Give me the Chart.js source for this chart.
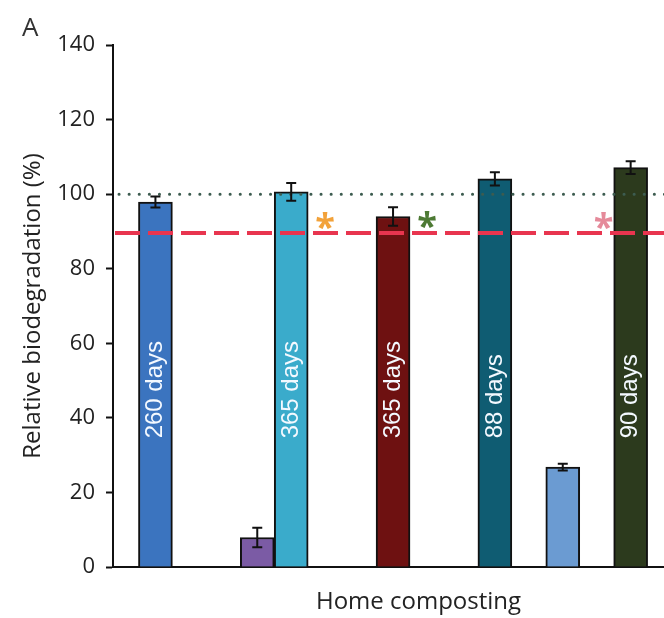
<!DOCTYPE html>
<html><head><meta charset="utf-8">
<script src="https://cdn.jsdelivr.net/npm/chart.js@4/dist/chart.umd.min.js"></script>
<style>
html,body{margin:0;padding:0;overflow:hidden;background:#fff;}
#wrap{position:relative;width:724px;height:618px;}
</style></head><body>
<div id="wrap"><canvas id="c"></canvas></div>
<script>
// ---- data ----
const slotPositions = [1, 4, 5, 8, 11, 13, 15];
const biodegradation = [97.9, 7.9, 100.6, 94.0, 104.1, 26.8, 107.1];
const errors = [1.5, 2.6, 2.4, 2.5, 1.8, 0.9, 1.7];
const dayLabels = ['260 days', '', '365 days', '365 days', '88 days', '', '90 days'];
const barColors = ['#3b74bf', '#7b5ba5', '#3aabcb', '#6e1111', '#0f5c72', '#6b9bd2', '#2c3a1d'];
const yTicks = [0, 20, 40, 60, 80, 100, 120, 140];
const dottedLineValue = 100;
const dashedLineValue = 89.6;
const dayLabelStart = 34.5;
const asteriskX = [6, 9, 14.2];
const asteriskY = [92.8, 93.0, 92.8];
const asteriskColors = ['#f2a23a', '#4d7a34', '#e58a9a'];

Chart.defaults.font.family = "'Open Sans', sans-serif";
Chart.defaults.color = '#222';

const overlay = {
  id: 'overlay',
  afterDatasetsDraw(chart) {
    const ctx = chart.ctx;
    const xs = chart.scales.x, ys = chart.scales.y;
    const area = chart.chartArea;
    ctx.save();
    // day labels inside bars
    ctx.font = "24px 'Liberation Sans', Arial, sans-serif";
    ctx.fillStyle = '#f4f9ff';
    ctx.textAlign = 'left';
    ctx.textBaseline = 'middle';
    slotPositions.forEach((p, i) => {
      if (!dayLabels[i]) return;
      ctx.save();
      ctx.translate(xs.getPixelForValue(p), ys.getPixelForValue(dayLabelStart));
      ctx.rotate(-Math.PI / 2);
      ctx.fillText(dayLabels[i], 0, 0);
      ctx.restore();
    });
    // dotted line at 100
    ctx.beginPath();
    ctx.strokeStyle = '#3d5c50';
    ctx.lineWidth = 3;
    ctx.lineCap = 'round';
    ctx.setLineDash([0.1, 10]);
    let yy = ys.getPixelForValue(dottedLineValue);
    ctx.moveTo(area.left + 6, yy); ctx.lineTo(area.right, yy);
    ctx.stroke();
    // dashed line at 90
    ctx.beginPath();
    ctx.strokeStyle = '#e8354f';
    ctx.lineWidth = 4;
    ctx.lineCap = 'butt';
    ctx.setLineDash([25, 8]);
    yy = ys.getPixelForValue(dashedLineValue);
    ctx.moveTo(area.left + 2, yy); ctx.lineTo(area.right, yy);
    ctx.stroke();
    ctx.setLineDash([]);
    // error bars
    ctx.strokeStyle = '#111';
    ctx.lineWidth = 2;
    slotPositions.forEach((p, i) => {
      const x = xs.getPixelForValue(p);
      const y1 = ys.getPixelForValue(biodegradation[i] + errors[i]);
      const y2 = ys.getPixelForValue(biodegradation[i] - errors[i]);
      ctx.beginPath();
      ctx.moveTo(x, y1); ctx.lineTo(x, y2);
      ctx.moveTo(x - 5, y1); ctx.lineTo(x + 5, y1);
      ctx.moveTo(x - 5, y2); ctx.lineTo(x + 5, y2);
      ctx.stroke();
    });
    // asterisks
    ctx.font = "bold 36px 'Open Sans', sans-serif";
    ctx.textAlign = 'center';
    ctx.textBaseline = 'alphabetic';
    asteriskX.forEach((ax, i) => {
      const m = ctx.measureText('*');
      const cx = xs.getPixelForValue(ax);
      const cy = ys.getPixelForValue(asteriskY[i]);
      ctx.fillStyle = asteriskColors[i];
      ctx.fillText('*', cx, cy + (m.actualBoundingBoxAscent - m.actualBoundingBoxDescent) / 2);
    });
    // panel letter
    ctx.fillStyle = '#333';
    ctx.font = "26px 'Open Sans', sans-serif";
    ctx.textAlign = 'left';
    ctx.fillText('A', 22, 36);
    ctx.restore();
  }
};

new Chart(document.getElementById('c'), {
  type: 'bar',
  data: {
    datasets: [{
      data: slotPositions.map((p, i) => ({ x: p, y: biodegradation[i] })),
      backgroundColor: barColors,
      borderColor: '#111',
      borderWidth: 2,
      barPercentage: 1,
      categoryPercentage: 1
    }]
  },
  options: {
    responsive: true,
    maintainAspectRatio: false,
    animation: false,
    layout: { padding: { top: 45, left: 0, right: 0, bottom: 0 } },
    plugins: { legend: { display: false }, tooltip: { enabled: false } },
    scales: {
      x: {
        type: 'linear',
        offset: false,
        min: -0.25,
        max: 17.75,
        ticks: { display: false },
        grid: { display: false, drawTicks: false },
        border: { display: true, color: '#111', width: 2 },
        title: { display: true, text: 'Home composting', font: { size: 24 }, color: '#222', padding: { top: 0, bottom: 1 } },
        afterFit(s) { s.height = 51; }
      },
      y: {
        min: 0,
        max: 140,
        afterBuildTicks(s) { s.ticks = yTicks.map(v => ({ value: v })); },
        ticks: { padding: 11, font: { size: 22 }, color: '#222' },
        grid: { drawOnChartArea: false, drawTicks: true, tickLength: 7, tickColor: '#111', tickWidth: 2 },
        border: { display: true, color: '#111', width: 2 },
        title: { display: true, text: 'Relative biodegradation (%)', font: { size: 24 }, color: '#222', padding: { top: 19, bottom: 0 } },
        afterFit(s) { s.width = 113; }
      }
    }
  },
  plugins: [overlay]
});
</script>
</body></html>
